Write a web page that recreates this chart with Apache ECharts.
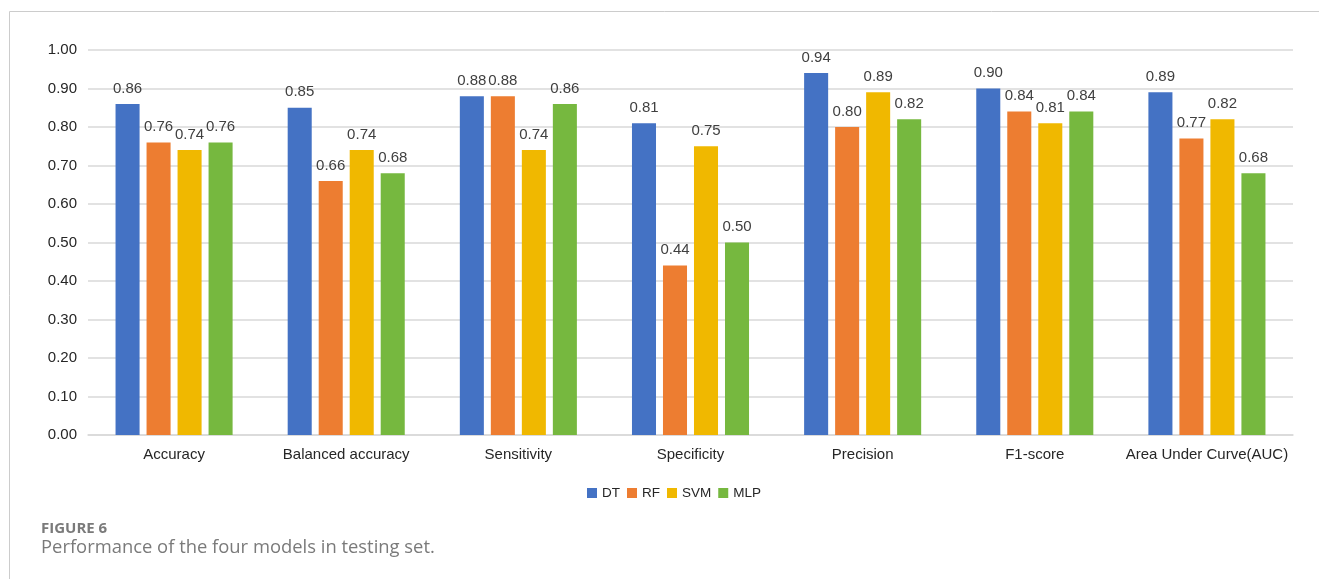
<!DOCTYPE html>
<html>
<head>
<meta charset="utf-8">
<style>
  html, body { margin: 0; padding: 0; background: #fff; }
  #chart { width: 1319px; height: 579px; }
</style>
<script src="https://cdn.jsdelivr.net/npm/echarts@6/dist/echarts.min.js"></script>
</head>
<body>
<div id="chart"></div>
<script>
// Evaluation metrics on the testing set
const metrics = ['Accuracy', 'Balanced accuracy', 'Sensitivity', 'Specificity', 'Precision', 'F1-score', 'Area Under Curve(AUC)'];
const models = ['DT', 'RF', 'SVM', 'MLP'];
const dtValues  = [0.86, 0.85, 0.88, 0.81, 0.94, 0.90, 0.89];
const rfValues  = [0.76, 0.66, 0.88, 0.44, 0.80, 0.84, 0.77];
const svmValues = [0.74, 0.74, 0.74, 0.75, 0.89, 0.81, 0.82];
const mlpValues = [0.76, 0.68, 0.86, 0.50, 0.82, 0.84, 0.68];
const yTicks = [0, 0.1, 0.2, 0.3, 0.4, 0.5, 0.6, 0.7, 0.8, 0.9, 1.0];

const colors = ['#4472C4', '#ED7D31', '#F0B800', '#76B83F'];
const seriesValues = [dtValues, rfValues, svmValues, mlpValues];
const font = '"Liberation Sans", Arial, sans-serif';
const captionFont = '"Open Sans", sans-serif';

const chart = echarts.init(document.getElementById('chart'), null, { renderer: 'canvas' });

chart.setOption({
  animation: false,
  color: colors,
  textStyle: { fontFamily: font },
  grid: { left: 88, right: 26, top: 50, bottom: 144, containLabel: false },
  legend: {
    data: models,
    top: 481,
    left: 582,
    icon: 'rect',
    itemWidth: 10,
    itemHeight: 10,
    itemGap: 7,
    textStyle: { fontSize: 13.5, color: '#262626', fontFamily: font, padding: [0, 0, 0, 0] }
  },
  xAxis: {
    type: 'category',
    data: metrics,
    axisLine: { lineStyle: { color: '#d9d9d9', width: 1.5 } },
    axisTick: { show: false },
    axisLabel: { fontSize: 15, color: '#262626', margin: 12, interval: 0, fontFamily: font }
  },
  yAxis: {
    type: 'value',
    min: yTicks[0],
    max: yTicks[yTicks.length - 1],
    interval: 0.1,
    axisLine: { show: false },
    axisTick: { show: false },
    splitLine: { lineStyle: { color: '#d9d9d9', width: 1.5 } },
    axisLabel: { fontSize: 15, color: '#262626', margin: 11, fontFamily: font, formatter: v => v.toFixed(2) }
  },
  series: models.map((name, i) => ({
    name,
    type: 'bar',
    data: seriesValues[i],
    barGap: '29%',
    barCategoryGap: '32%',
    itemStyle: { color: colors[i] },
    label: {
      show: true,
      position: 'top',
      distance: 8,
      fontSize: 15,
      color: '#404040',
      fontFamily: font,
      formatter: p => p.value.toFixed(2)
    }
  })),
  graphic: [
    {
      type: 'polyline',
      shape: { points: [[9.5, 579], [9.5, 11.5], [1319, 11.5]] },
      style: { stroke: '#cccccc', lineWidth: 1, fill: null }
    },
    {
      type: 'text',
      left: 41,
      top: 521,
      style: { text: 'FIGURE 6', fontSize: 15, fontWeight: 'bold', fill: '#7a7a7a', fontFamily: captionFont }
    },
    {
      type: 'text',
      left: 41,
      top: 539,
      style: { text: 'Performance of the four models in testing set.', fontSize: 18.4, fill: '#7a7a7a', fontFamily: captionFont }
    }
  ]
});
</script>
</body>
</html>
